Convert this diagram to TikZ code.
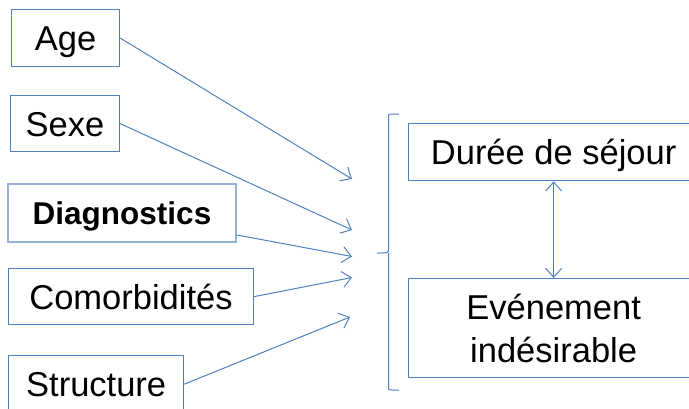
\documentclass[tikz,border=0pt]{standalone}
\usepackage{fontspec}
\setmainfont{Liberation Sans}
\usetikzlibrary{arrows.meta,calc}
\definecolor{lineblue}{HTML}{4F81BD}
\definecolor{lightblue}{HTML}{95B3D7}
\begin{document}
\begin{tikzpicture}[x=1pt,y=-1pt,
  box/.style={draw=lineblue,line width=1.3pt,anchor=north west,inner sep=0pt,align=center,
    font=\fontsize{34.5}{43}\selectfont},
  oneline/.style={text height=25pt,text depth=-2pt},
  conn/.style={draw=lineblue,line width=1pt,-{Straight Barb[length=9pt,width=16pt,line width=1pt]}},
  twoway/.style={draw=lineblue,line width=1pt,{Straight Barb[length=9pt,width=16pt,line width=1pt]}-{Straight Barb[length=9pt,width=16pt,line width=1pt]}}]
\useasboundingbox (0,0) rectangle (689,408);
\clip (0,0) rectangle (689,408);
\node[box,oneline,minimum width=108pt,minimum height=57pt] (age) at (11,9) {Age};
\node[box,oneline,minimum width=109.5pt,minimum height=56pt] (sexe) at (9.5,95) {Sexe};
\node[box,draw=lightblue,line width=2pt,minimum width=228pt,minimum height=58pt,
  text height=23pt,text depth=-1pt,
  font=\fontsize{31.5}{40}\selectfont\bfseries] (diag) at (7,183) {Diagnostics};
\node[box,oneline,minimum width=244.7pt,minimum height=56pt] (como) at (8,268) {Comorbidités};
\node[box,oneline,minimum width=175pt,minimum height=57pt] (struct) at (8,355) {Structure};
\node[box,oneline,minimum width=290pt,minimum height=57pt] (duree) at (408,123) {Durée de séjour};
\node[box,minimum width=290pt,minimum height=99pt] (evt) at (408,278) {Evénement\\indésirable};
\coordinate (t1) at (352,179);
\coordinate (t2) at (352,230);
\coordinate (t3) at (352,256.5);
\coordinate (t4) at (352,277.5);
\coordinate (t5) at (350,317);
\draw[conn] (age.east) -- (t1);
\draw[conn] (sexe.east) -- (t2);
\draw[conn] ([yshift=-22pt]diag.east) -- (t3);
\draw[conn] (como.east) -- (t4);
\draw[conn] (struct.east) -- (t5);
\draw[twoway] (duree.south) -- (evt.north);
\draw[lineblue,line width=1pt] (399,114) -- (392,114) .. controls (388.5,114) .. (388.5,118)
  -- (388.5,249) .. controls (388.5,253) .. (377,253)
  (388.5,253) -- (388.5,386) .. controls (388.5,390) .. (392,390) -- (399,390);
\end{tikzpicture}
\end{document}
